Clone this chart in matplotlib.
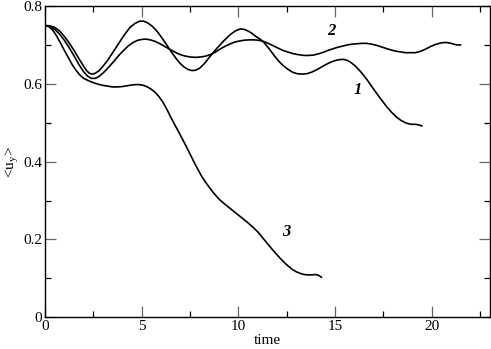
import matplotlib
matplotlib.use("Agg")
import matplotlib.pyplot as plt
from matplotlib.ticker import MultipleLocator

plt.rcParams['font.family'] = ['Liberation Serif', 'DejaVu Serif']
plt.rcParams['mathtext.fontset'] = 'custom'
plt.rcParams['mathtext.rm'] = 'Liberation Serif'
plt.rcParams['mathtext.it'] = 'Liberation Serif:italic'

# Curve 1
t1 = [0, 0.25, 0.5, 0.75, 1.0, 1.25, 1.5, 1.75, 2.0, 2.15, 2.3, 2.45, 2.6, 2.8, 3.0,
      3.25, 3.5, 3.75, 4.0, 4.2, 4.4, 4.65, 4.9, 5.1, 5.3, 5.55, 5.8, 6.05, 6.3, 6.55,
      6.8, 7.0, 7.2, 7.4, 7.6, 7.8, 8.0, 8.25, 8.5, 8.75, 9.0, 9.3, 9.6, 9.85, 10.1,
      10.3, 10.5, 10.7, 10.9, 11.1, 11.3, 11.6, 11.9, 12.1, 12.3, 12.55, 12.8, 13.05,
      13.3, 13.55, 13.8, 14.05, 14.3, 14.55, 14.8, 15.1, 15.4, 15.6, 15.8, 16.05,
      16.3, 16.55, 16.8, 17.05, 17.3, 17.5, 17.7, 17.95, 18.2, 18.45, 18.7, 18.85,
      19.0, 19.15, 19.3, 19.5]
v1 = [0.750, 0.749, 0.745, 0.736, 0.722, 0.705, 0.686, 0.665, 0.645, 0.634, 0.627,
      0.625, 0.627, 0.634, 0.645, 0.661, 0.680, 0.699, 0.718, 0.732, 0.745, 0.755,
      0.761, 0.761, 0.757, 0.748, 0.735, 0.718, 0.700, 0.681, 0.664, 0.652, 0.643,
      0.637, 0.634, 0.635, 0.640, 0.652, 0.668, 0.683, 0.697, 0.713, 0.727, 0.736,
      0.741, 0.740, 0.736, 0.730, 0.722, 0.716, 0.708, 0.690, 0.670, 0.658, 0.648,
      0.638, 0.630, 0.626, 0.625, 0.626, 0.630, 0.636, 0.643, 0.650, 0.656, 0.661,
      0.663, 0.661, 0.656, 0.646, 0.633, 0.618, 0.601, 0.583, 0.566, 0.553, 0.540,
      0.526, 0.514, 0.505, 0.499, 0.497, 0.496, 0.496, 0.495, 0.492]

# Curve 2
t2 = [0, 0.25, 0.5, 0.75, 1.0, 1.25, 1.5, 1.75, 2.0, 2.2, 2.4, 2.6, 2.8, 3.05, 3.3,
      3.55, 3.8, 4.05, 4.3, 4.55, 4.8, 5.0, 5.2, 5.45, 5.7, 5.95, 6.2, 6.45, 6.7,
      6.95, 7.2, 7.5, 7.8, 8.05, 8.3, 8.55, 8.8, 9.05, 9.3, 9.55, 9.8, 10.05, 10.3,
      10.55, 10.8, 11.05, 11.3, 11.55, 11.8, 12.05, 12.3, 12.55, 12.8, 13.1, 13.4,
      13.65, 13.9, 14.15, 14.4, 14.65, 14.9, 15.15, 15.4, 15.65, 15.9, 16.15, 16.4,
      16.65, 16.9, 17.15, 17.4, 17.65, 17.9, 18.15, 18.4, 18.65, 18.9, 19.15, 19.4,
      19.6, 19.8, 20.0, 20.2, 20.4, 20.6, 20.8, 21.0, 21.15, 21.3, 21.5]
v2 = [0.750, 0.747, 0.740, 0.728, 0.712, 0.693, 0.672, 0.650, 0.631, 0.620, 0.614,
      0.614, 0.619, 0.630, 0.643, 0.657, 0.672, 0.685, 0.697, 0.706, 0.712, 0.714,
      0.715, 0.713, 0.709, 0.703, 0.696, 0.689, 0.682, 0.676, 0.672, 0.669, 0.668,
      0.669, 0.671, 0.675, 0.681, 0.689, 0.696, 0.702, 0.707, 0.710, 0.712, 0.713,
      0.713, 0.712, 0.709, 0.704, 0.698, 0.692, 0.686, 0.682, 0.678, 0.675, 0.673,
      0.673, 0.674, 0.677, 0.681, 0.686, 0.690, 0.694, 0.697, 0.700, 0.702, 0.703,
      0.704, 0.704, 0.702, 0.699, 0.695, 0.691, 0.687, 0.684, 0.682, 0.680, 0.680,
      0.680, 0.683, 0.687, 0.692, 0.697, 0.701, 0.704, 0.706, 0.706, 0.704, 0.702,
      0.700, 0.700]

# Curve 3
t3 = [0, 0.2, 0.4, 0.6, 0.8, 1.0, 1.2, 1.4, 1.6, 1.8, 2.0, 2.25, 2.5, 2.75, 3.0,
      3.25, 3.5, 3.75, 4.0, 4.25, 4.5, 4.7, 4.9, 5.1, 5.3, 5.5, 5.7, 5.9, 6.1, 6.3,
      6.5, 6.7, 6.9, 7.1, 7.3, 7.5, 7.7, 7.9, 8.1, 8.3, 8.5, 8.75, 9.0, 9.25, 9.5,
      9.75, 10.0, 10.25, 10.5, 10.75, 11.0, 11.25, 11.5, 11.75, 12.0, 12.2, 12.4,
      12.6, 12.8, 13.0, 13.2, 13.4, 13.6, 13.8, 14.0, 14.15, 14.3]
v3 = [0.750, 0.747, 0.738, 0.723, 0.705, 0.686, 0.668, 0.650, 0.635, 0.623, 0.614,
      0.608, 0.603, 0.599, 0.596, 0.594, 0.592, 0.592, 0.593, 0.595, 0.597, 0.598,
      0.598, 0.596, 0.592, 0.586, 0.578, 0.567, 0.553, 0.535, 0.515, 0.496, 0.478,
      0.459, 0.440, 0.420, 0.400, 0.381, 0.363, 0.348, 0.334, 0.318, 0.304, 0.293,
      0.283, 0.273, 0.263, 0.253, 0.243, 0.232, 0.220, 0.205, 0.190, 0.175, 0.161,
      0.150, 0.140, 0.131, 0.123, 0.117, 0.113, 0.110, 0.109, 0.109, 0.110, 0.108,
      0.103]

curve_labels = ['1', '2', '3']
label_pos_t = [16.2, 14.83, 12.5]
label_pos_v = [0.584, 0.737, 0.22]

fig = plt.figure(figsize=(4.91, 3.49), dpi=100)
ax = fig.add_axes([45/491, 1-317.3/349, (489.5-45)/491, (317.3-6)/349])

for t, v in [(t1, v1), (t2, v2), (t3, v3)]:
    ax.plot(t, v, color='black', lw=1.2, solid_joinstyle='round')

for lab, x, y in zip(curve_labels, label_pos_t, label_pos_v):
    ax.text(x, y, lab, fontsize=12, fontweight='bold', fontstyle='italic',
            ha='center', va='center')

ax.set_xlim(0, 23)
ax.set_ylim(0, 0.8)
ax.xaxis.set_minor_locator(MultipleLocator(2.5))
ax.yaxis.set_minor_locator(MultipleLocator(0.1))
ax.set_xticks([0, 5, 10, 15, 20])
ax.set_xticklabels(['0', '5', '10', '15', '20'])
ax.set_yticks([0, 0.2, 0.4, 0.6, 0.8])
ax.set_yticklabels(['0', '0.2', '0.4', '0.6', '0.8'])
ax.tick_params(which='major', direction='in', length=8, width=0.9, color='#666666',
               top=True, right=True, labelsize=11, pad=2)
ax.tick_params(which='minor', direction='in', length=4, width=0.9, color='black',
               top=True, right=True)
for s in ax.spines.values():
    s.set_linewidth(1.0)

ax.set_xlabel('time', fontsize=11, labelpad=1)
ax.set_ylabel(r'<u$_\mathregular{y}$>', fontsize=11, labelpad=2)

fig.savefig('out.png', dpi=100)
